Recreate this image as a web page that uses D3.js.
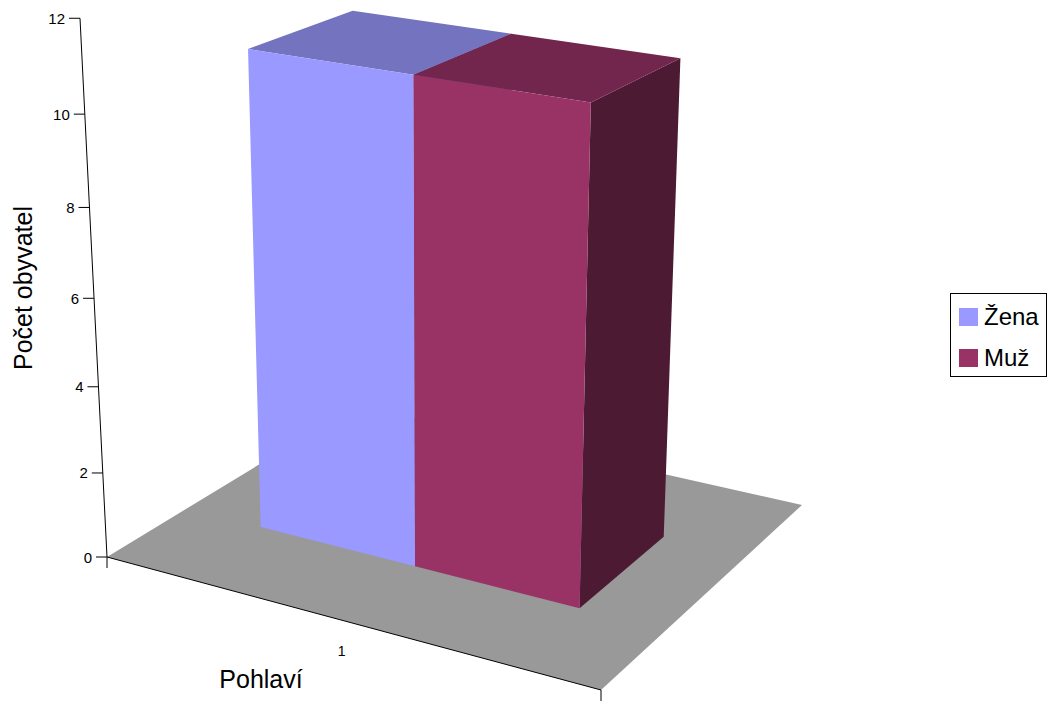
<!DOCTYPE html>
<html>
<head>
<meta charset="utf-8">
<script src="https://cdn.jsdelivr.net/npm/d3@7"></script>
<style>
  html, body { margin: 0; padding: 0; background: #ffffff; }
  svg { display: block; font-family: "Liberation Sans", Arial, sans-serif; }
</style>
</head>
<body>
<svg id="chart" width="1054" height="703"></svg>
<script>
// ---- data ----
const categories = ["1"];
const series = ["Žena", "Muž"];
const values = [11, 11];              // one value per series for category "1"
const seriesColors = ["#9999FF", "#993366"];
const valueTicks = [0, 2, 4, 6, 8, 10, 12];
const valueTitle = "Počet obyvatel";
const categoryTitle = "Pohlaví";

// ---- 3D perspective camera (world: X along categories 0..1, H height 0..1, Z depth 0..1) ----
const cam = {
  a: 436.59, b: 304.71, c: 107,
  d: 67.08, e: -89.93, f: 557,
  g: -0.09553, h: 0.15326,
  p: -33.08, q: -540.12, r: -0.07608
};
function project(X, H, Z) {
  const w = 1 + cam.g * X + cam.h * Z + cam.r * H;
  return [(cam.c + cam.a * X + cam.b * Z + cam.p * H) / w,
          (cam.f + cam.d * X + cam.e * Z + cam.q * H) / w];
}

const svg = d3.select("#chart");

// scales
const yScale = d3.scaleLinear().domain([0, 12]).range([0, 1]);
const x0 = d3.scaleBand().domain(categories).range([0, 1]).paddingInner(0).paddingOuter(0);
const x1 = d3.scaleBand().domain(series).range([0, x0.bandwidth()]).paddingInner(0).paddingOuter(0.5);
const zRange = [0.29, 0.69];

function shade(col, k) {
  const c = d3.rgb(col);
  return d3.rgb(c.r * k, c.g * k, c.b * k).formatHex();
}
const poly = pts => "M" + pts.map(p => p.join(",")).join("L") + "Z";

// floor
svg.append("path")
  .attr("d", poly([project(0,0,0), project(1,0,0), project(1,0,1), project(0,0,1)]))
  .attr("fill", "#999999");

// category axis line along front edge
const ca0 = project(0,0,0), ca1 = project(1,0,0);
svg.append("line").attr("x1", ca0[0]).attr("y1", ca0[1]).attr("x2", ca1[0]).attr("y2", ca1[1])
  .attr("stroke", "#000").attr("stroke-width", 1);
// category ticks (between categories)
[0, 1].forEach(t => {
  const p = project(t, 0, 0);
  svg.append("line").attr("x1", p[0]).attr("y1", p[1]).attr("x2", p[0]).attr("y2", p[1] + 11)
    .attr("stroke", "#000").attr("stroke-width", 1);
});
// category labels
categories.forEach(cat => {
  const p = project(x0(cat) + x0.bandwidth() / 2, 0, 0);
  svg.append("text").attr("x", p[0]).attr("y", p[1] + 36)
    .attr("text-anchor", "middle").attr("font-size", 14).text(cat);
});

// value axis
const va0 = project(0, yScale(0), 0), va1 = project(0, yScale(12), 0);
svg.append("line").attr("x1", va0[0]).attr("y1", va0[1]).attr("x2", va1[0]).attr("y2", va1[1])
  .attr("stroke", "#000").attr("stroke-width", 1);
valueTicks.forEach(t => {
  const p = project(0, yScale(t), 0);
  svg.append("line").attr("x1", p[0] - 11).attr("y1", p[1]).attr("x2", p[0]).attr("y2", p[1])
    .attr("stroke", "#000").attr("stroke-width", 1);
  svg.append("text").attr("x", p[0] - 15).attr("y", p[1] + 5.5)
    .attr("text-anchor", "end").attr("font-size", 15).text(t);
});

// bars
categories.forEach(cat => {
  series.forEach((s, i) => {
    const xa = x0(cat) + x1(s), xb = xa + x1.bandwidth();
    const za = zRange[0], zb = zRange[1];
    const hv = yScale(values[i]);
    const g = svg.append("g");
    // right side face
    g.append("path").attr("d", poly([project(xb,0,za), project(xb,0,zb), project(xb,hv,zb), project(xb,hv,za)]))
      .attr("fill", shade(seriesColors[i], 0.5));
    // top face
    g.append("path").attr("d", poly([project(xa,hv,za), project(xb,hv,za), project(xb,hv,zb), project(xa,hv,zb)]))
      .attr("fill", shade(seriesColors[i], 0.75));
    // front face
    g.append("path").attr("d", poly([project(xa,0,za), project(xb,0,za), project(xb,hv,za), project(xa,hv,za)]))
      .attr("fill", seriesColors[i]);
  });
});

// axis titles
svg.append("text").attr("transform", "translate(32,288) rotate(-90)")
  .attr("text-anchor", "middle").attr("font-size", 25).text(valueTitle);
svg.append("text").attr("x", 261).attr("y", 688)
  .attr("text-anchor", "middle").attr("font-size", 25).text(categoryTitle);

// legend
const lg = svg.append("g");
lg.append("rect").attr("x", 950.5).attr("y", 293.5).attr("width", 96).attr("height", 83)
  .attr("fill", "#fff").attr("stroke", "#000").attr("stroke-width", 1);
series.forEach((s, i) => {
  const yy = 308 + i * 41;
  lg.append("rect").attr("x", 959).attr("y", yy).attr("width", 19).attr("height", 18)
    .attr("fill", seriesColors[i]);
  lg.append("text").attr("x", 984).attr("y", yy + 17).attr("font-size", 24).text(s);
});
</script>
</body>
</html>
